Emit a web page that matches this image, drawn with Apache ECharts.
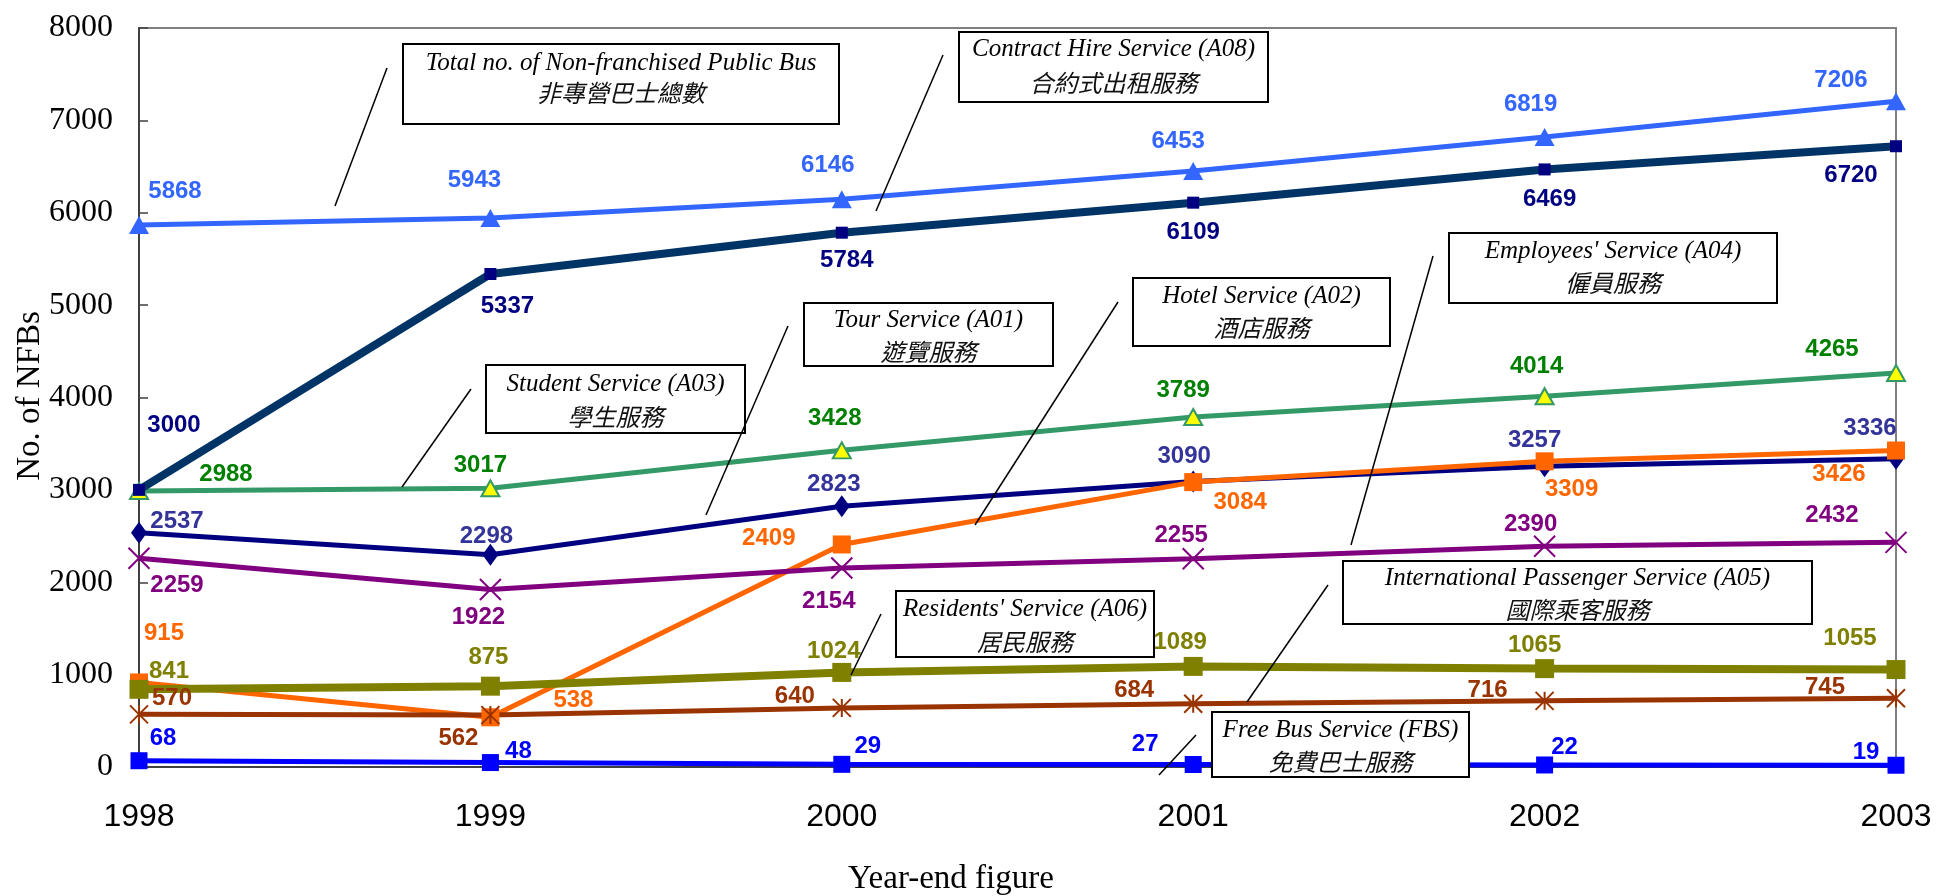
<!DOCTYPE html>
<html>
<head>
<meta charset="utf-8">
<title>Non-franchised Public Buses 1998-2003</title>
<script src="https://cdn.jsdelivr.net/npm/echarts@6/dist/echarts.min.js"></script>
<style>
    html, body { margin: 0; padding: 0; background: #fff; }
    #chart { width: 1937px; height: 896px; }
</style>
</head>
<body>
<div id="chart"></div>
<script>
// year-end figures
const years = ['1998', '1999', '2000', '2001', '2002', '2003'];
const yTicks = [0, 1000, 2000, 3000, 4000, 5000, 6000, 7000, 8000];

const totalNfb = [5868, 5943, 6146, 6453, 6819, 7206];
const contractHire = [3000, 5337, 5784, 6109, 6469, 6720];
const studentService = [2988, 3017, 3428, 3789, 4014, 4265];
const tourService = [2537, 2298, 2823, 3090, 3257, 3336];
const hotelService = [915, 538, 2409, 3084, 3309, 3426];
const employeesService = [2259, 1922, 2154, 2255, 2390, 2432];
const residentsService = [841, 875, 1024, 1089, 1065, 1055];
const intlPassenger = [570, 562, 640, 684, 716, 745];
const freeBus = [68, 48, 29, 27, 22, 19];

const seriesNames = {
    total: 'Total no. of Non-franchised Public Bus',
    contract: 'Contract Hire Service (A08)',
    student: 'Student Service (A03)',
    tour: 'Tour Service (A01)',
    hotel: 'Hotel Service (A02)',
    employees: "Employees' Service (A04)",
    residents: "Residents' Service (A06)",
    intl: 'International Passenger Service (A05)',
    fbs: 'Free Bus Service (FBS)'
};

// label nudges (px) so the numbers sit where the original put them
const labelNudge = {
    total: [[36, -34], [-16, -38], [-14, -34], [-15, -30], [-14, -33], [-55, -21]],
    contract: [[35, -65], [17, 32], [5, 28], [0, 30], [5, 30], [-45, 29]],
    student: [[87, -17], [-10, -23], [-7, -32], [-10, -27], [-8, -30], [-64, -24]],
    tour: [[38, -11], [-4, -18], [-8, -22], [-9, -25], [-10, -26], [-26, -30]],
    hotel: [[25, -49], [83, -17], [-73, -6], [47, 20], [27, 28], [-57, 24]],
    employees: [[38, 27], [-12, 28], [-13, 33], [-12, -23], [-14, -22], [-64, -27]],
    residents: [[30, -18], [-2, -29], [-8, -21], [-13, -24], [-10, -23], [-46, -31]],
    intl: [[33, -16], [-32, 23], [-47, -12], [-59, -13], [-57, -10], [-71, -11]],
    fbs: [[24, -22], [28, -11], [26, -18], [-48, -20], [20, -18], [-30, -13]]
};

const crossSymbol = 'path://M0,0L20,20M20,0L0,20';
const starSymbol = 'path://M0,0L20,20M20,0L0,20M10,0L10,20';

function makeLine(key, values, opt) {
    return {
        name: seriesNames[key],
        type: 'line',
        data: values.map((v, i) => ({ value: v, label: { offset: labelNudge[key][i] } })),
        symbol: opt.symbol,
        symbolSize: opt.symbolSize,
        lineStyle: { color: opt.lineColor, width: opt.lineWidth },
        itemStyle: {
            color: opt.markerColor,
            borderColor: opt.markerBorder || opt.markerColor,
            borderWidth: opt.markerBorderWidth || 0
        },
        label: {
            show: true,
            position: 'inside',
            color: opt.labelColor,
            fontFamily: 'Liberation Sans',
            fontWeight: 'bold',
            fontSize: 24
        },
        emphasis: { disabled: true },
        z: opt.z || 2
    };
}

// annotation boxes: [x1, y1, x2, y2, line1Y, line2Y], leader [x1, y1, x2, y2]
const notes = [
    { en: 'Total no. of Non-franchised Public Bus', zh: '非專營巴士總數', box: [403, 44, 839, 124, 63, 93], leader: [387, 68, 335, 206] },
    { en: 'Contract Hire Service (A08)', zh: '合約式出租服務', box: [959, 32, 1268, 102, 49, 83], leader: [943, 55, 876, 211] },
    { en: 'Student Service (A03)', zh: '學生服務', box: [486, 365, 745, 433, 384, 417], leader: [471, 389, 402, 487] },
    { en: 'Tour Service (A01)', zh: '遊覽服務', box: [804, 303, 1053, 366, 320, 352], leader: [788, 326, 706, 515] },
    { en: 'Hotel Service (A02)', zh: '酒店服務', box: [1133, 278, 1390, 346, 296, 328], leader: [1118, 302, 975, 525] },
    { en: "Employees' Service (A04)", zh: '僱員服務', box: [1449, 233, 1777, 303, 251, 283], leader: [1433, 256, 1351, 545] },
    { en: "Residents' Service (A06)", zh: '居民服務', box: [896, 591, 1154, 657, 609, 642], leader: [881, 614, 851, 675] },
    { en: 'International Passenger Service (A05)', zh: '國際乘客服務', box: [1343, 561, 1812, 624, 578, 610], leader: [1328, 585, 1247, 702] },
    { en: 'Free Bus Service (FBS)', zh: '免費巴士服務', box: [1212, 712, 1469, 777, 730, 762], leader: [1196, 735, 1159, 775] }
];

function buildGraphics() {
    const els = [];
    notes.forEach(n => {
        const b = n.box;
        const cx = (b[0] + b[2]) / 2;
        els.push({
            type: 'line', z: 100,
            shape: { x1: n.leader[0], y1: n.leader[1], x2: n.leader[2], y2: n.leader[3] },
            style: { stroke: '#000', lineWidth: 1.5 }
        });
        els.push({
            type: 'rect', z: 100,
            shape: { x: b[0], y: b[1], width: b[2] - b[0], height: b[3] - b[1] },
            style: { fill: '#fff', stroke: '#000', lineWidth: 2 }
        });
        els.push({
            type: 'text', z: 101,
            style: {
                text: n.en, x: cx, y: b[4], align: 'center', verticalAlign: 'middle',
                fontFamily: 'Liberation Serif', fontStyle: 'italic', fontSize: 25, fill: '#000'
            }
        });
        els.push({
            type: 'text', z: 101,
            style: {
                text: n.zh, x: cx, y: b[5], align: 'center', verticalAlign: 'middle',
                fontFamily: 'Noto Sans CJK TC', fontStyle: 'italic', fontSize: 24, fill: '#111'
            }
        });
    });
    // axis titles
    els.push({
        type: 'text', z: 101, x: 30, y: 396, rotation: Math.PI / 2,
        style: {
            text: 'No. of NFBs', x: 0, y: 0, align: 'center', verticalAlign: 'middle',
            fontFamily: 'Liberation Serif', fontSize: 33, fill: '#000'
        }
    });
    els.push({
        type: 'text', z: 101,
        style: {
            text: 'Year-end figure', x: 951, y: 879, align: 'center', verticalAlign: 'middle',
            fontFamily: 'Liberation Serif', fontSize: 33, fill: '#000'
        }
    });
    return els;
}

const chart = echarts.init(document.getElementById('chart'));
chart.setOption({
    animation: false,
    backgroundColor: '#fff',
    grid: {
        left: 139, right: 41, top: 28, bottom: 129,
        show: true, borderColor: '#808080', borderWidth: 2, containLabel: false
    },
    xAxis: {
        type: 'category',
        data: years,
        boundaryGap: false,
        axisLine: { lineStyle: { color: '#404040', width: 2 } },
        axisTick: { show: false },
        axisLabel: { fontFamily: 'Liberation Sans', fontSize: 32, color: '#000', margin: 34 },
        splitLine: { show: false }
    },
    yAxis: {
        type: 'value',
        min: yTicks[0],
        max: yTicks[yTicks.length - 1],
        interval: yTicks[1] - yTicks[0],
        axisLine: { show: true, lineStyle: { color: '#404040', width: 2 } },
        axisTick: { show: true, inside: true, length: 9, lineStyle: { color: '#404040', width: 1.5 } },
        axisLabel: {
            fontFamily: 'Liberation Serif', fontSize: 32, color: '#000', margin: 26,
            formatter: v => String(v)
        },
        splitLine: { show: false }
    },
    series: [
        makeLine('total', totalNfb, { symbol: 'triangle', symbolSize: [20, 18], lineColor: '#3366FF', lineWidth: 5, markerColor: '#3366FF', labelColor: '#3366FF' }),
        makeLine('student', studentService, { symbol: 'triangle', symbolSize: [18, 16], lineColor: '#339966', lineWidth: 5, markerColor: '#FFFF00', markerBorder: '#339966', markerBorderWidth: 2, labelColor: '#008000' }),
        makeLine('contract', contractHire, { symbol: 'rect', symbolSize: 12, lineColor: '#003366', lineWidth: 8, markerColor: '#000080', labelColor: '#000080' }),
        makeLine('tour', tourService, { symbol: 'diamond', symbolSize: [16, 22], lineColor: '#000080', lineWidth: 5, markerColor: '#000080', labelColor: '#333399' }),
        makeLine('hotel', hotelService, { symbol: 'rect', symbolSize: 18, lineColor: '#FF6600', lineWidth: 5, markerColor: '#FF6600', labelColor: '#FF6600' }),
        makeLine('employees', employeesService, { symbol: crossSymbol, symbolSize: 21, lineColor: '#800080', lineWidth: 5, markerColor: '#800080', markerBorderWidth: 2, labelColor: '#800080' }),
        makeLine('residents', residentsService, { symbol: 'rect', symbolSize: 19, lineColor: '#808000', lineWidth: 8, markerColor: '#808000', labelColor: '#808000' }),
        makeLine('intl', intlPassenger, { symbol: starSymbol, symbolSize: 18, lineColor: '#993300', lineWidth: 5, markerColor: '#993300', markerBorderWidth: 2, labelColor: '#993300' }),
        makeLine('fbs', freeBus, { symbol: 'rect', symbolSize: 17, lineColor: '#0000FF', lineWidth: 5, markerColor: '#0000FF', labelColor: '#0000FF' })
    ],
    graphic: buildGraphics()
});
</script>
</body>
</html>
